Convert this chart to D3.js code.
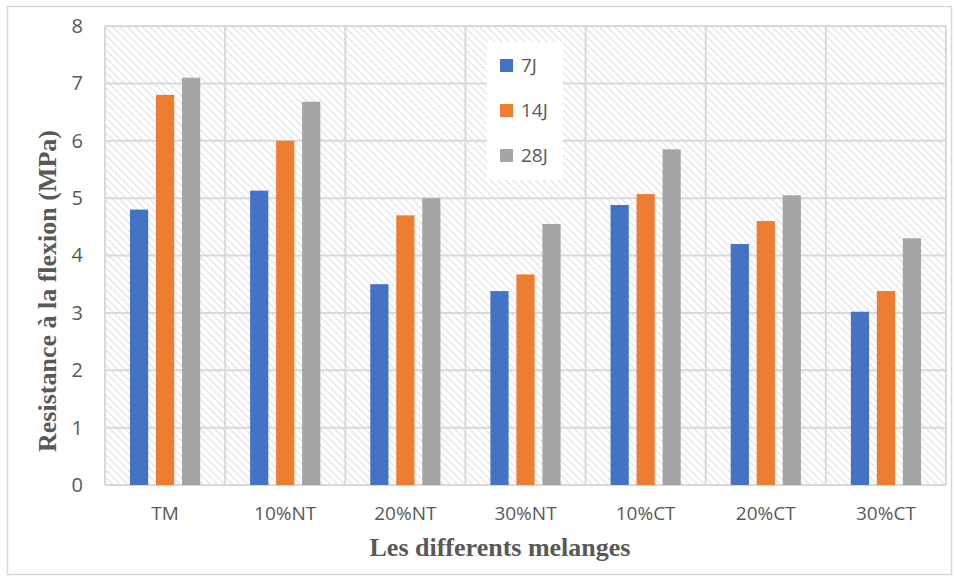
<!DOCTYPE html>
<html>
<head>
<meta charset="utf-8">
<style>
  body { margin: 0; background: #fff; }
  svg text { font-family: "Open Sans", "Noto Sans", sans-serif; fill: #595959; }
</style>
</head>
<body>
<svg width="956" height="579"></svg>
<script src="https://cdnjs.cloudflare.com/ajax/libs/d3/7.8.5/d3.min.js"></script>
<script>
// chart data
const categories = ["TM", "10%NT", "20%NT", "30%NT", "10%CT", "20%CT", "30%CT"];
const seriesNames = ["7J", "14J", "28J"];
const values7J  = [4.8, 5.13, 3.5, 3.38, 4.88, 4.2, 3.02];
const values14J = [6.8, 6.0, 4.7, 3.67, 5.07, 4.6, 3.38];
const values28J = [7.1, 6.68, 5.0, 4.55, 5.85, 5.05, 4.3];
const yTicks = [0, 1, 2, 3, 4, 5, 6, 7, 8];
const colors = ["#4472C4", "#ED7D31", "#A5A5A5"];

const svg = d3.select("svg");
const margin = {top: 26, right: 10, bottom: 94, left: 105};
const width = 946 - margin.left;
const height = 485 - margin.top;

// outer frame
svg.append("rect")
  .attr("x", 7.5).attr("y", 6.5)
  .attr("width", 944).attr("height", 568)
  .attr("fill", "#fff")
  .attr("stroke", "#D9D9D9")
  .attr("stroke-width", 1.5);

// hatch pattern
const pat = svg.append("defs").append("pattern")
  .attr("id", "hatch")
  .attr("patternUnits", "userSpaceOnUse")
  .attr("width", 5.3).attr("height", 5.3)
  .attr("patternTransform", "rotate(45)");
pat.append("rect").attr("width", 5.3).attr("height", 5.3).attr("fill", "#fff");
pat.append("line")
  .attr("x1", 0).attr("y1", 0).attr("x2", 5.3).attr("y2", 0)
  .attr("stroke", "#E2E2E2").attr("stroke-width", 2.4);

const g = svg.append("g")
  .attr("transform", "translate(" + margin.left + "," + margin.top + ")");

const x = d3.scaleBand()
  .domain(categories)
  .range([0, width]);

const x1 = d3.scaleBand()
  .domain(seriesNames)
  .range([x.bandwidth() / 2 - 39, x.bandwidth() / 2 + 39])
  .paddingInner(0.3)
  .paddingOuter(0.15);

const y = d3.scaleLinear()
  .domain([0, 8])
  .range([height, 0]);

g.append("rect")
  .attr("width", width).attr("height", height)
  .attr("fill", "url(#hatch)");

// grid
g.append("g")
  .selectAll("line.h")
  .data(yTicks)
  .join("line")
  .attr("x1", 0).attr("x2", width)
  .attr("y1", d => y(d)).attr("y2", d => y(d))
  .attr("stroke", "#D9D9D9").attr("stroke-width", 2);

g.append("g")
  .selectAll("line.v")
  .data(categories.concat(["end"]))
  .join("line")
  .attr("x1", (d, i) => i * x.step()).attr("x2", (d, i) => i * x.step())
  .attr("y1", 0).attr("y2", height)
  .attr("stroke", "#D9D9D9").attr("stroke-width", 2);

// y axis
const yAxis = g.append("g")
  .call(d3.axisLeft(y).tickValues(yTicks).tickSize(0).tickPadding(22));
yAxis.select(".domain").remove();
yAxis.selectAll("text").attr("font-size", 20).attr("fill", "#595959");

// x axis
const xAxis = g.append("g")
  .attr("transform", "translate(0," + height + ")")
  .call(d3.axisBottom(x).tickSize(0).tickPadding(22));
xAxis.select(".domain").remove();
xAxis.selectAll("text").attr("font-size", 19).attr("fill", "#595959");

// bars
const series = [values7J, values14J, values28J];
const groups = g.append("g").selectAll("g")
  .data(categories)
  .join("g")
  .attr("transform", d => "translate(" + x(d) + ",0)");

groups.selectAll("rect")
  .data((d, i) => seriesNames.map((s, j) => ({s: s, v: series[j][i], c: colors[j]})))
  .join("rect")
  .attr("x", d => x1(d.s))
  .attr("y", d => y(d.v))
  .attr("width", x1.bandwidth())
  .attr("height", d => height - y(d.v))
  .attr("fill", d => d.c);

// legend
const legend = svg.append("g").attr("transform", "translate(487,42)");
legend.append("rect")
  .attr("width", 76).attr("height", 138)
  .attr("fill", "#fff");
const li = legend.selectAll("g")
  .data(seriesNames)
  .join("g")
  .attr("transform", (d, i) => "translate(13," + (17 + i * 45) + ")");
li.append("rect")
  .attr("width", 13).attr("height", 13)
  .attr("fill", (d, i) => colors[i]);
li.append("text")
  .attr("x", 21).attr("y", 13)
  .attr("font-size", 19)
  .text(d => d);

// axis titles
svg.append("text")
  .attr("x", 500).attr("y", 556)
  .attr("text-anchor", "middle")
  .style("font-family", "'Liberation Serif', 'Times New Roman', serif")
  .attr("font-weight", "bold")
  .attr("font-size", 26)
  .text("Les differents melanges");

svg.append("text")
  .attr("transform", "translate(56,291) rotate(-90)")
  .attr("text-anchor", "middle")
  .style("font-family", "'Liberation Serif', 'Times New Roman', serif")
  .attr("font-weight", "bold")
  .attr("font-size", 26)
  .text("Resistance à la flexion (MPa)");
</script>
</body>
</html>
